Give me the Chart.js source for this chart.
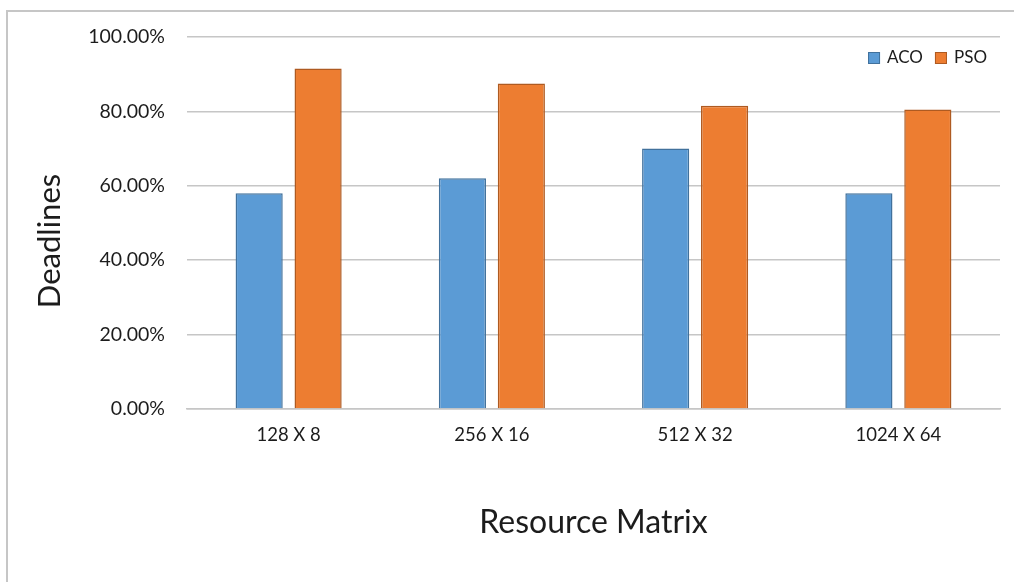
<!DOCTYPE html>
<html lang="en">
<head>
  <meta charset="UTF-8">
  <title>Deadlines by Resource Matrix</title>
  <script src="https://cdn.jsdelivr.net/npm/chart.js"></script>
  <style>
    body {
      margin: 0;
      background: #fff;
      width: 1014px;
      height: 582px;
      overflow: hidden;
      position: relative;
    }
    .frame {
      position: absolute;
      left: 6px;
      top: 10px;
      right: 0;
      bottom: 0;
      border-left: 2px solid #c6c6c6;
      border-top: 2px solid #c6c6c6;
    }
    .chart-box {
      position: absolute;
      left: 0;
      top: 0;
      width: 1014px;
      height: 582px;
    }
  </style>
</head>
<body>
  <div class="frame"></div>
  <div class="chart-box">
    <canvas id="deadlineChart"></canvas>
  </div>

  <script>
    // Data
    const categories = ['128 X 8', '256 X 16', '512 X 32', '1024 X 64'];
    const acoValues = [58, 62, 70, 58];
    const psoValues = [91.5, 87.5, 81.5, 80.5];
    const yTicks = [0, 20, 40, 60, 80, 100];
    const yTitle = 'Deadlines';
    const xTitle = 'Resource Matrix';

    const FONT = 'Lato, "Open Sans", sans-serif';
    const TEXT = '#1c1c1c';

    // Legend inside the plot area (top right) and the y title sitting a bit
    // below the axis centre, like the Excel original
    const excelBits = {
      id: 'excelBits',
      afterDraw(chart) {
        const c = chart.ctx;
        const area = chart.chartArea;
        c.save();

        // y axis title
        c.translate(50, (area.top + area.bottom) / 2 + 18);
        c.rotate(-Math.PI / 2);
        c.font = '31px ' + FONT;
        c.fillStyle = TEXT;
        c.textAlign = 'center';
        c.textBaseline = 'middle';
        c.fillText(yTitle, 0, 0);
        c.setTransform(1, 0, 0, 1, 0, 0);

        // legend
        const box = 12, gapText = 7, gapItem = 12;
        const y = area.top + 21;
        c.font = '17px ' + FONT;
        c.textAlign = 'left';
        let x = area.right - 13;
        chart.data.datasets.slice().reverse().forEach(ds => {
          const w = c.measureText(ds.label).width;
          x -= w;
          c.fillStyle = TEXT;
          c.fillText(ds.label, x, y);
          x -= gapText + box;
          c.fillStyle = ds.backgroundColor;
          c.fillRect(x, y - box / 2, box, box);
          c.strokeStyle = ds.borderColor;
          c.lineWidth = 1;
          c.strokeRect(x + 0.5, y - box / 2 + 0.5, box - 1, box - 1);
          x -= gapItem;
        });
        c.restore();
      }
    };

    const ctx = document.getElementById('deadlineChart').getContext('2d');

    new Chart(ctx, {
      type: 'bar',
      data: {
        labels: categories,
        datasets: [
          {
            label: 'ACO',
            data: acoValues,
            backgroundColor: '#5b9bd5',
            borderColor: '#41719c',
            borderWidth: 1.5
          },
          {
            label: 'PSO',
            data: psoValues,
            backgroundColor: '#ed7d31',
            borderColor: '#ae5a21',
            borderWidth: 1.5
          }
        ]
      },
      options: {
        responsive: true,
        maintainAspectRatio: false,
        animation: false,
        devicePixelRatio: 1,
        datasets: {
          bar: { categoryPercentage: 0.58, barPercentage: 0.8 }
        },
        layout: {
          padding: { top: 37, right: 14, left: 0, bottom: 0 }
        },
        plugins: {
          tooltip: { enabled: false },
          legend: { display: false }
        },
        scales: {
          x: {
            grid: { display: false, drawTicks: false },
            border: { display: true, color: '#c6c6c6', width: 1.5 },
            ticks: {
              color: TEXT,
              padding: 15,
              font: { family: FONT, size: 18.5 }
            },
            title: {
              display: true,
              text: xTitle,
              color: TEXT,
              font: { family: FONT, size: 32 },
              padding: { top: 0, bottom: 40 }
            },
            afterFit: scale => { scale.height = 173; }
          },
          y: {
            min: 0,
            max: 100,
            afterBuildTicks: scale => {
              scale.ticks = yTicks.map(v => ({ value: v }));
            },
            grid: { color: '#c6c6c6', lineWidth: 1.5, drawTicks: false },
            border: { display: false },
            ticks: {
              color: TEXT,
              padding: 22,
              font: { family: FONT, size: 19.5 },
              callback: v => v.toFixed(2) + '%'
            },
            afterFit: scale => { scale.width = 187; }
          }
        }
      },
      plugins: [excelBits]
    });
  </script>
</body>
</html>
